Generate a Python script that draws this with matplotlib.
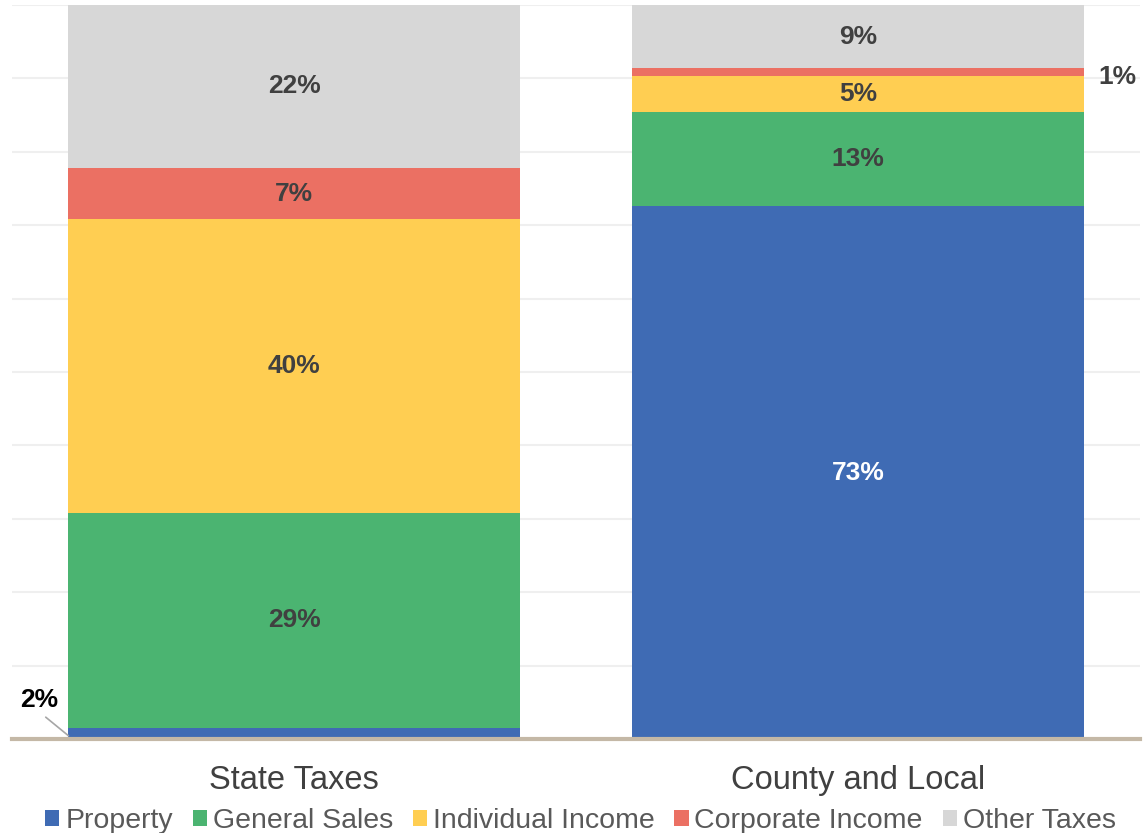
import matplotlib.pyplot as plt
import numpy as np

plt.rcParams['font.family'] = ['Liberation Sans', 'DejaVu Sans']

# data (percent of total taxes)
categories = ["State Taxes", "County and Local"]
series = ["Property", "General Sales", "Individual Income", "Corporate Income", "Other Taxes"]
property_vals = [1.5, 72.6]
sales_vals = [29.3, 12.8]
income_vals = [40.0, 4.9]
corporate_vals = [7.0, 1.1]
other_vals = [22.2, 8.6]
colors = ["#3F6BB4", "#4BB471", "#FFCE52", "#EB7063", "#D7D7D7"]

values = [property_vals, sales_vals, income_vals, corporate_vals, other_vals]

fig = plt.figure(figsize=(11.47, 8.33), dpi=100)
ax = fig.add_axes([0.0105, 0.1128, 0.9834, 0.8812])

x = np.arange(len(categories))
bottom = np.zeros(len(categories))
for name, vals, col in zip(series, values, colors):
    ax.bar(x, vals, width=0.8, bottom=bottom, color=col, label=name, zorder=2)
    for i, v in enumerate(vals):
        lbl = f"{v:.0f}%"
        mid = bottom[i] + v / 2
        if v < 2:
            # small segments get outside labels
            if i == 0:
                ax.annotate(lbl, xy=(x[i] - 0.4, mid - 0.3), xytext=(x[i] - 0.452, mid + 4.6),
                            ha='center', va='center', fontsize=19, fontweight='bold', color='black',
                            arrowprops=dict(arrowstyle='-', color='#A6A6A6', lw=1.2,
                                            relpos=(0.5, 0.0), shrinkA=3, shrinkB=0))
            else:
                ax.text(x[i] + 0.427, mid - 0.6, lbl, ha='left', va='center', fontsize=19,
                        fontweight='bold', color='#404040')
        else:
            tc = 'white' if col == "#3F6BB4" else '#404040'
            ax.text(x[i], mid, lbl, ha='center', va='center', fontsize=19,
                    fontweight='bold', color=tc)
    bottom += np.array(vals)

ax.set_xlim(-0.5, 1.5)
ax.set_ylim(0, 100)
ax.set_yticks(np.arange(0, 101, 10))
ax.yaxis.grid(True, color='#EFEFEF', lw=1.5, zorder=0)
ax.tick_params(axis='y', left=False, labelleft=False)
ax.tick_params(axis='x', bottom=False, labelsize=23.5, labelcolor='#404040', pad=15)
ax.set_xticks(x)
ax.set_xticklabels(categories)
for s in ['top', 'right', 'left']:
    ax.spines[s].set_visible(False)
ax.spines['bottom'].set_color('#C4B8A6')
ax.spines['bottom'].set_linewidth(3)
ax.spines['bottom'].set_zorder(3)

fig.legend(loc='lower center', bbox_to_anchor=(0.506, -0.032), ncol=5, frameon=False,
           fontsize=20.5, handlelength=0.5, handleheight=0.5, handletextpad=0.2,
           columnspacing=0.7, labelcolor='#595959')

fig.savefig("out.png", dpi=100)
